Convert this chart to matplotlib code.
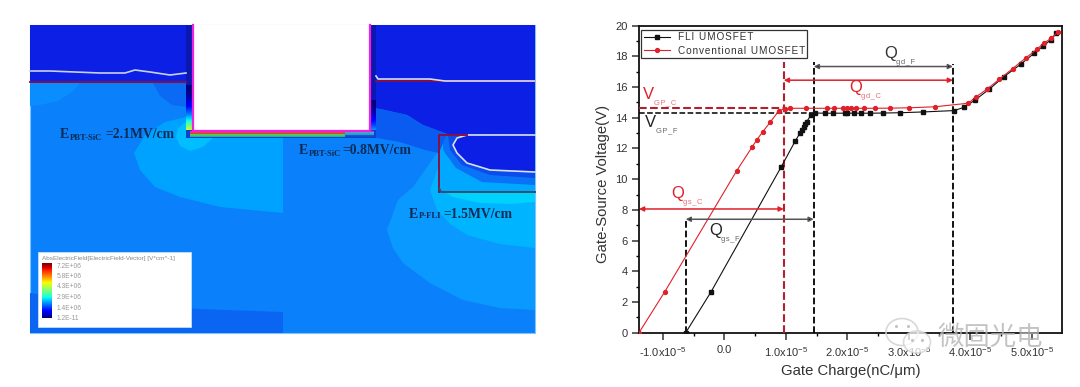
import numpy as np
import matplotlib
matplotlib.use('Agg')
import matplotlib.pyplot as plt
from matplotlib.patches import Polygon, Rectangle, Ellipse
from matplotlib.ticker import MultipleLocator

plt.rcParams['font.family'] = ['Liberation Sans', 'DejaVu Sans']
plt.rcParams['mathtext.fontset'] = 'custom'
plt.rcParams['mathtext.rm'] = 'Liberation Sans'
plt.rcParams['mathtext.default'] = 'regular'

# gate charge in units of 1e-5 nC/um
fli_q = [-0.63, -0.216, 0.92, 1.155, 1.23, 1.26, 1.29, 1.32, 1.34, 1.41, 1.475, 1.64, 1.77,
         1.96, 2.0, 2.11, 2.22, 2.37, 2.575, 2.86, 3.225, 3.735, 3.9, 4.08, 4.31, 4.55,
         4.82, 5.04, 5.19, 5.31, 5.4]
fli_v = [0, 2.67, 10.77, 12.5, 13.0, 13.2, 13.4, 13.6, 13.75, 14.18, 14.31, 14.3, 14.3,
         14.3, 14.3, 14.3, 14.3, 14.3, 14.31, 14.33, 14.38, 14.47, 14.68, 15.16, 15.86, 16.68,
         17.48, 18.2, 18.68, 19.07, 19.5]
conv_q = [-1.39, -0.97, 0.2, 0.455, 0.527, 0.624, 0.743, 0.884, 0.987, 1.07, 1.33, 1.665, 1.78,
          1.935, 1.99, 2.055, 2.15, 2.28, 2.455, 2.69, 3.0, 3.43, 3.97, 4.1, 4.28, 4.47,
          4.69, 4.905, 5.09, 5.21, 5.32, 5.43]
conv_v = [0, 2.67, 10.55, 12.12, 12.56, 13.09, 13.7, 14.44, 14.6, 14.62, 14.62, 14.62, 14.62,
          14.62, 14.62, 14.62, 14.62, 14.62, 14.62, 14.63, 14.65, 14.72, 14.95, 15.38, 15.88, 16.5,
          17.2, 17.9, 18.48, 18.9, 19.17, 19.6]

x_ticks = [-1, 0, 1, 2, 3, 4, 5]
x_tick_labels = ['-1.0x10$^{-5}$', '0.0', '1.0x10$^{-5}$', '2.0x10$^{-5}$',
                 '3.0x10$^{-5}$', '4.0x10$^{-5}$', '5.0x10$^{-5}$']

# field plot regions, outlines in image pixels
deep_blue = '#0b20e4'
base_blue = '#0a80fb'
left_top = [(30, 25), (193, 25), (193, 83), (30, 83)]
right_top = [(371, 25), (535, 25), (535, 135), (447, 134), (423, 125), (407, 115), (380, 109), (371, 108)]
right_band = [(371, 108), (380, 109), (407, 115), (423, 125), (447, 134), (439, 153), (425, 150), (400, 142), (371, 137)]
left_patch = [(30, 83), (80, 83), (72, 92), (58, 101), (40, 105), (30, 106)]
corner_patch = [(153, 83), (186, 83), (186, 107), (172, 105), (160, 96)]
light_left = [(186, 117), (165, 122), (145, 135), (134, 153), (140, 170), (155, 187),
              (180, 197), (220, 207), (283, 213), (283, 137), (186, 137)]
cyan_left = [(186, 122), (178, 128), (176, 137), (180, 146), (190, 151), (203, 147), (214, 137)]
bottom_dark = [(30, 293), (100, 302), (200, 309), (283, 312), (283, 333), (30, 333)]
right_light = [(437, 153), (425, 170), (413, 187), (398, 200), (387, 230), (393, 248), (403, 263),
               (430, 283), (463, 300), (500, 308), (535, 310), (535, 153)]
right_lighter = [(439, 165), (430, 190), (437, 210), (450, 224), (467, 235), (500, 244),
                 (535, 248), (535, 165)]
right_cyan = [(439, 188), (453, 197), (480, 203), (510, 204), (535, 202), (535, 188)]
mesa_outer = [(439, 135), (535, 135), (535, 192), (439, 192)]
mesa_blue = [(443, 135), (535, 135), (535, 185), (482, 182), (456, 168), (443, 150)]
mesa_mid = [(448, 135), (535, 135), (535, 178), (490, 175), (462, 165), (450, 150)]
mesa_deep = [(467, 135), (457, 138), (453, 145), (457, 153), (467, 163), (490, 170), (535, 172), (535, 135)]
white_top = [(30, 71), (50, 71), (75, 72), (100, 73), (125, 73), (135, 70), (150, 72), (170, 75), (186, 73)]
white_blob = [(535, 135), (467, 135), (457, 138), (453, 145), (457, 153), (467, 163), (490, 170), (535, 172)]
mesa_line_top = [(467, 135), (439, 135), (439, 192)]
mesa_line_bottom = [(439, 188), (441, 192), (535, 192)]

band_y = [131.5, 133, 134.5, 136]
band_left = ['#ff20d0', '#f04a20', '#7fe020', '#20d090']
band_right = ['#ff20e0', '#30c0d0', '#20b0e0', '#1050c0']

scale_labels = ['7.2E+06', '5.8E+06', '4.3E+06', '2.9E+06', '1.4E+06', '1.2E-11']

fig = plt.figure(figsize=(10.8, 3.87), dpi=100)

# left panel, drawn in image pixels
ax_f = fig.add_axes([0, 0, 1, 1], zorder=0)
ax_f.set_xlim(0, 1080)
ax_f.set_ylim(387, 0)
ax_f.axis('off')

ax_f.add_patch(Rectangle((30, 25), 505, 308, fc=base_blue, ec='#7fc4ff', lw=0.8, zorder=1))
regions = [(left_top, deep_blue), (left_patch, '#0a8dff'), (corner_patch, '#0a6af4'),
           (light_left, '#00a2ff'), (cyan_left, '#00beff'), (bottom_dark, '#0a66f2'),
           (right_light, '#0a9aff'), (right_lighter, '#00b4ff'), (right_cyan, '#00d2ff'),
           (mesa_outer, '#00a8ff'), (mesa_blue, '#0a72f6'), (mesa_mid, '#0a4cec'), (mesa_deep, deep_blue),
           (right_top, deep_blue), (right_band, '#0a5cf0')]
for outline, color in regions:
    ax_f.add_patch(Polygon(outline, closed=True, fc=color, ec='none', zorder=2))

# trench and its edges
ax_f.add_patch(Rectangle((186, 25), 7, 60, fc='#0a18b0', ec='none', zorder=3))
ax_f.add_patch(Rectangle((371, 25), 5, 80, fc='#0a18b0', ec='none', zorder=3))
wall = np.linspace(0, 1, 40).reshape(-1, 1) ** 2 * 0.62
ax_f.imshow(wall, cmap='jet', vmin=0, vmax=1, extent=(186, 193, 131, 85), aspect='auto', zorder=3)
wall_r = np.linspace(0, 1, 40).reshape(-1, 1) ** 2 * 0.42
ax_f.imshow(wall_r, cmap='jet', vmin=0, vmax=1, extent=(371, 376, 137, 100), aspect='auto', zorder=3)
ax_f.add_patch(Rectangle((186, 130), 190, 7.5, fc='#1040d0', ec='none', zorder=3))
for y, c1, c2 in zip(band_y, band_left, band_right):
    ax_f.plot([190, 345], [y, y], color=c1, lw=1.2, zorder=4, solid_capstyle='butt')
    ax_f.plot([345, 374], [y, y], color=c2, lw=1.2, zorder=4, solid_capstyle='butt')
ax_f.add_patch(Rectangle((193, 25), 177, 105.5, fc='white', ec='none', zorder=5))
ax_f.plot([192.5, 192.5, 370, 370], [25, 130.5, 130.5, 25], color='#f020e0', lw=1.6, zorder=6)

# junction lines
ax_f.plot([30, 186], [82, 82], color='#8a1040', lw=1.3, zorder=6)
ax_f.plot([376, 535], [81, 81], color='#8a1040', lw=1.3, zorder=6)
ax_f.plot(*zip(*white_top), color='#c8d0f0', lw=1.2, zorder=7)
ax_f.plot([376, 378, 430, 445, 535], [76, 79, 79, 81, 81], color='#d8dcf4', lw=1.2, zorder=7)
ax_f.plot(*zip(*white_blob), color='#d8e0f4', lw=1.2, zorder=7)
ax_f.plot(*zip(*mesa_line_top), color='#8a1040', lw=1.4, zorder=8)
ax_f.plot(*zip(*mesa_line_bottom), color='#30506a', lw=1.4, zorder=8)

# field labels
labels = [(60, 135, 'PBT-SiC', 105, '=2.1MV/cm'), (299, 151, 'PBT-SiC', 342, '=0.8MV/cm'),
          (409, 214, 'P-FLI', 443, '=1.5MV/cm')]
for x, y, sub, x2, rest in labels:
    ax_f.text(x, y, 'E', family='Liberation Serif', weight='bold', fontsize=10, color='#0c2b55',
              va='center', zorder=9)
    ax_f.text(x + 9.5, y + 2.5, sub, family='Liberation Serif', weight='bold', fontsize=6.2, color='#0c2b55',
              va='center', zorder=9)
    ax_f.text(x2, y, rest, family='Liberation Serif', weight='bold', fontsize=9.8, color='#0c2b55',
              va='center', zorder=9)

# colour scale box
ax_f.add_patch(Rectangle((37.5, 252), 153, 75, fc='white', ec='#bfe0ff', lw=0.6, zorder=9))
ax_f.text(42, 258.5, 'AbsElectricField[ElectricField-Vector] [V*cm^-1]', fontsize=4.6, color='#888888',
          va='center', zorder=10)
scale = np.linspace(1, 0, 60).reshape(-1, 1)
ax_f.imshow(scale, cmap='jet', extent=(41.5, 51.5, 318, 263), aspect='auto', zorder=10)
for i, lab in enumerate(scale_labels):
    ax_f.text(57, 266 + i * 10.5, lab, fontsize=4.8, color='#999999', va='center', zorder=10)
ax_f.set_xlim(0, 1080)
ax_f.set_ylim(387, 0)

# gate charge chart
ax = fig.add_axes([639 / 1080, 1 - 332.7 / 387, 422.7 / 1080, 307 / 387], zorder=1)
ax.patch.set_alpha(0)
red = '#e0202a'
ax.plot(fli_q, fli_v, '-s', color='#111111', lw=0.8, ms=2.6, label='F\u200aL\u200aI\u2009 U\u200aM\u200aO\u200aS\u200aF\u200aE\u200aT', zorder=4)
ax.plot(conv_q, conv_v, '-o', color=red, lw=0.8, ms=2.8,
        label='C\u200ao\u200an\u200av\u200ae\u200an\u200at\u200ai\u200ao\u200an\u200aa\u200al\u2009 U\u200aM\u200aO\u200aS\u200aF\u200aE\u200aT', zorder=5)
ax.set_xlim(-1.39, 5.49)
ax.set_ylim(0, 20)

ax.set_xticks(x_ticks)
ax.set_xticklabels(x_tick_labels)
ax.set_yticks(range(0, 21, 2))
ax.xaxis.set_minor_locator(MultipleLocator(0.5))
ax.yaxis.set_minor_locator(MultipleLocator(1))
ax.tick_params(which='major', length=5, width=1.1, labelsize=8, colors='#333333', pad=3)
ax.tick_params(which='minor', length=2.5, width=1)
ax.tick_params(axis='x', pad=4)
ax.set_xlabel('Gate Charge(nC/\u03bcm)', fontsize=10.7, color='#333333', labelpad=3.5)
ax.set_ylabel('Gate-Source Voltage(V)', fontsize=10.7, color='#333333', labelpad=3.7, y=0.484)
for s in ax.spines.values():
    s.set_linewidth(1.3)
    s.set_color('#111111')

leg = ax.legend(loc='upper left', bbox_to_anchor=(0.005, 0.986), fontsize=7.2, fancybox=False, framealpha=1,
                edgecolor='#333333', handlelength=2.6, labelspacing=0.35, borderpad=0.25, borderaxespad=0)
leg.get_frame().set_linewidth(0.9)
for t in leg.get_texts():
    t.set_color('#333333')

# guide lines
dark_red = '#b3202c'
ax.plot([0.966, 0.966], [0, 17.65], '--', color=dark_red, lw=1.5, zorder=3)
ax.plot([1.454, 1.454], [0, 17.65], '--', color='black', lw=1.3, zorder=3)
ax.plot([-0.63, -0.63], [0, 7.39], '--', color='black', lw=1.3, zorder=3)
ax.plot([3.72, 3.72], [0, 17.48], '--', color='black', lw=1.3, zorder=3)
ax.plot([-1.39, 1.0], [14.62, 14.62], '--', color=dark_red, lw=1.5, zorder=3)
ax.plot([-1.39, 1.454], [14.3, 14.3], '--', color='black', lw=1.1, zorder=3)

arrows = [(1.454, 3.72, 17.34, '#555555', 'black'), (0.966, 3.72, 16.45, red, red),
          (-1.39, 0.966, 8.06, red, red), (-0.63, 1.454, 7.39, '#555555', 'black')]
for x0, x1, y, c, fc in arrows:
    ax.annotate('', xy=(x1, y), xytext=(x0, y),
                arrowprops=dict(arrowstyle='<|-|>', color=c, fc=fc, lw=1.1, mutation_scale=7,
                                shrinkA=0, shrinkB=0), zorder=6)

# Q and V labels
big = [(-1.33, 15.05, 'V', 'GP_C', red), (-1.3, 13.23, 'V', 'GP_F', '#222222'),
       (2.6, 17.7, 'Q', 'gd_F', '#333333'), (2.04, 15.48, 'Q', 'gd_C', red),
       (-0.87, 8.55, 'Q', 'gs_C', red), (-0.24, 6.15, 'Q', 'gs_F', '#222222')]
sub_color = {'#222222': '#666666', '#333333': '#666666', red: '#e87078'}
for x, y, letter, sub, c in big:
    ax.text(x, y, letter, fontsize=12, color=c, va='bottom', zorder=7)
    ax.text(x + 0.19, y - 0.3, '\u200a'.join(sub), fontsize=5.4, color=sub_color[c], va='bottom', zorder=7)

# watermark
ax_w = fig.add_axes([0, 0, 1, 1], zorder=2)
ax_w.set_xlim(0, 1080)
ax_w.set_ylim(387, 0)
ax_w.axis('off')
ax_w.add_patch(Ellipse((902, 332), 32, 27, fc='none', ec='#d4d4d4', lw=1.2, alpha=0.9))
ax_w.add_patch(Ellipse((917, 342), 27, 22, fc='white', ec='#d0d0d0', lw=1.2, alpha=0.75))
ax_w.plot([896, 908, 912, 922], [326, 326, 340, 340], ls='none', marker='.', ms=2.5, color='#c4c4c4')
ax_w.text(990, 337, '微固光电', family=['Noto Sans CJK SC', 'DejaVu Sans'], fontsize=19, color='#b5b5b5',
          alpha=0.8, ha='center', va='center')

fig.savefig('out.png', dpi=100)
